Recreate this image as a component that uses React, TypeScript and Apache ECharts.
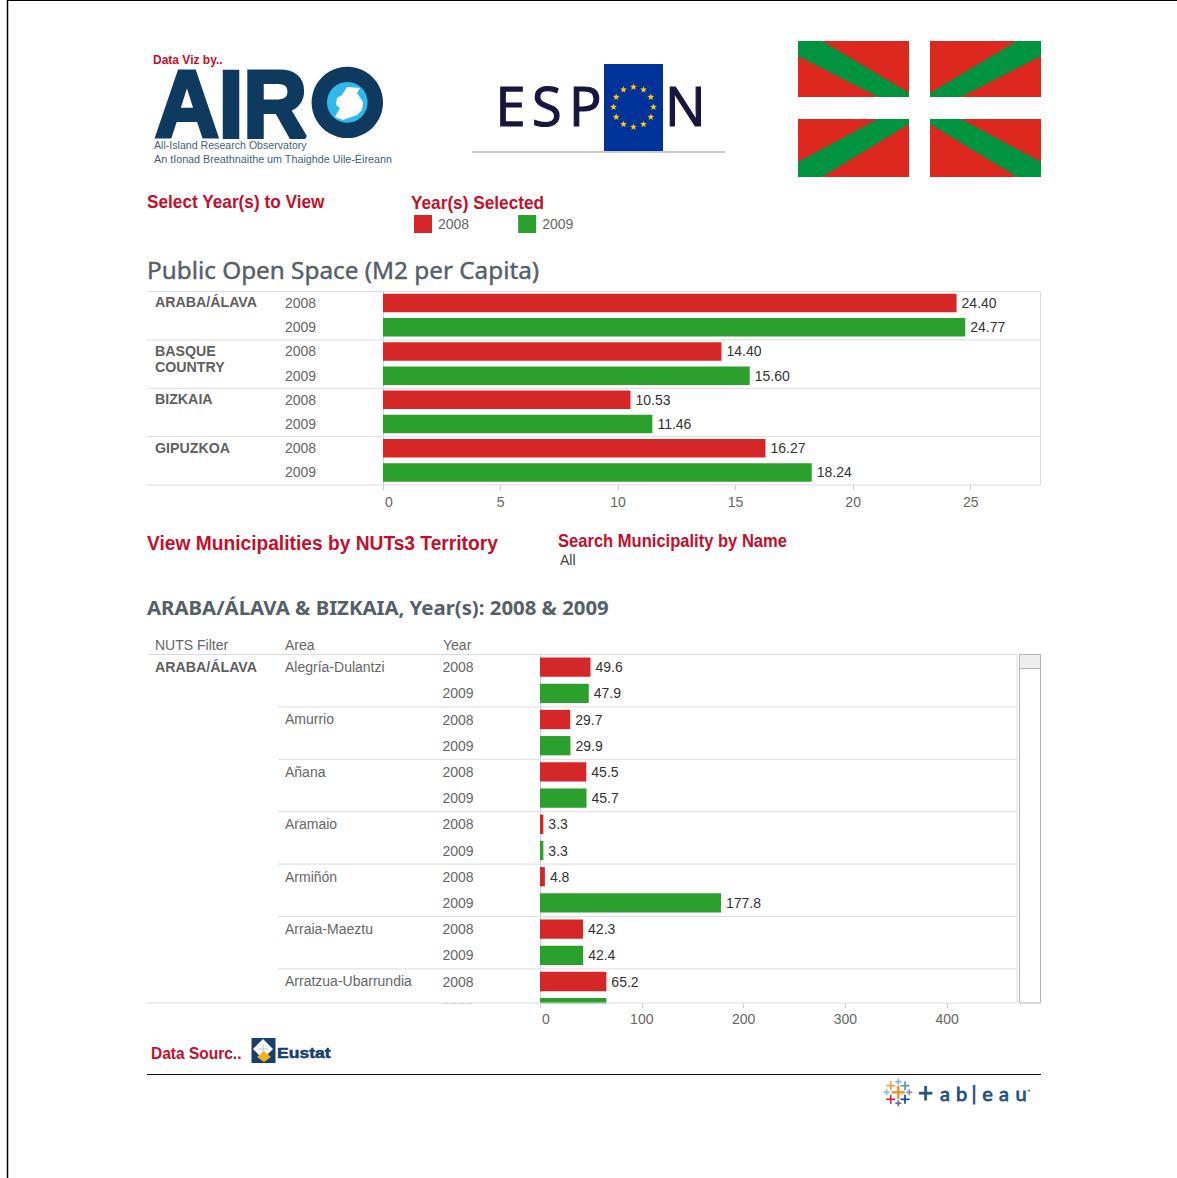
import React, { useEffect, useRef } from "react";
import * as echarts from "echarts";

const YEARS = ["2008", "2009"];
const regions = ["ARABA/ÁLAVA", "BASQUE COUNTRY", "BIZKAIA", "GIPUZKOA"];
const regionLines = [["ARABA/ÁLAVA"], ["BASQUE", "COUNTRY"], ["BIZKAIA"], ["GIPUZKOA"]];
const space2008 = [24.4, 14.4, 10.53, 16.27];
const space2009 = [24.77, 15.6, 11.46, 18.24];
const ticksTop = [0, 5, 10, 15, 20, 25];

const areas = ["Alegría-Dulantzi", "Amurrio", "Añana", "Aramaio", "Armiñón", "Arraia-Maeztu", "Arratzua-Ubarrundia"];
const muni2008 = [49.6, 29.7, 45.5, 3.3, 4.8, 42.3, 65.2];
const muni2009 = [47.9, 29.9, 45.7, 3.3, 177.8, 42.4, 65.2];
const ticksBottom = [0, 100, 200, 300, 400];

const RED = "#d62728";
const GREEN = "#2ca02c";
const TITLE_RED = "#c40f2c";
const LINE = "#dcdcdc";
const GREY = "#666666";
const NAVY = "#0f3a5f";

const FONT = "'Liberation Sans', Arial, sans-serif";

function rowsOf(list: string[]) {
  return list.flatMap((n) => YEARS.map((y) => `${n}|${y}`));
}

function pad(values: number[], yearIndex: number) {
  return values.flatMap((v) => (yearIndex === 0 ? [v, null] : [null, v]));
}

function txt(text: string, x: number, y: number, size: number, fill: string, extra: any = {}) {
  const { weight, family, align, stroke, lineWidth, ...rest } = extra;
  return {
    type: "text",
    x,
    y,
    z: 20,
    silent: true,
    style: {
      text,
      fill,
      fontSize: size,
      fontWeight: weight || "normal",
      fontFamily: family || FONT,
      align: align || "left",
      verticalAlign: "middle",
      ...(stroke ? { stroke, lineWidth } : {}),
    },
    ...rest,
  };
}

function hline(x1: number, x2: number, y: number, stroke = LINE, w = 1, z = 6) {
  return { type: "line", z, silent: true, shape: { x1, y1: y, x2, y2: y }, style: { stroke, lineWidth: w } };
}
function vline(x: number, y1: number, y2: number, stroke = LINE, w = 1, z = 6) {
  return { type: "line", z, silent: true, shape: { x1: x, y1, x2: x, y2 }, style: { stroke, lineWidth: w } };
}
function box(x: number, y: number, width: number, height: number, fill: string, z = 20, stroke?: string) {
  return { type: "rect", z, silent: true, shape: { x, y, width, height }, style: { fill, stroke, lineWidth: stroke ? 1 : 0 } };
}
function poly(points: number[][], fill: string, z = 21) {
  return { type: "polygon", z, silent: true, shape: { points }, style: { fill } };
}
function star(cx: number, cy: number, r: number) {
  const pts: number[][] = [];
  for (let i = 0; i < 10; i++) {
    const a = -Math.PI / 2 + (i * Math.PI) / 5;
    const q = i % 2 === 0 ? r : r * 0.42;
    pts.push([cx + q * Math.cos(a), cy + q * Math.sin(a)]);
  }
  return poly(pts, "#ffcc00", 22);
}
function cross(cx: number, cy: number, h: number, fill: string) {
  const t = h > 6 ? 2.4 : 1.7;
  return [box(cx - h, cy - t / 2, h * 2, t, fill, 22), box(cx - t / 2, cy - h, t, h * 2, fill, 22)];
}

function barSeries(name: string, color: string, values: number[], gridIndex: number, digits: number, hideLabelAt: number[] = []) {
  return {
    type: "bar",
    name,
    xAxisIndex: gridIndex,
    yAxisIndex: gridIndex,
    barWidth: gridIndex === 0 ? 18.5 : 19.3,
    barGap: "-100%",
    itemStyle: { color },
    label: {
      show: true,
      position: "right",
      distance: 5,
      color: "#333333",
      fontSize: 14,
      fontFamily: FONT,
      padding: [0, 0, 2, 0],
      formatter: (p: any) => Number(p.value).toFixed(digits),
    },
    data: values.map((v, i) =>
      hideLabelAt.includes(i) ? { value: v, label: { show: false } } : v
    ),
    z: 2,
  };
}

function xAxisOf(gridIndex: number, max: number, interval: number, ticks: number[], offset: number, margin: number) {
  return {
    type: "value",
    gridIndex,
    min: 0,
    max,
    interval,
    offset,
    z: 10,
    axisLine: { show: false },
    axisTick: { show: true, length: 5, customValues: ticks, lineStyle: { color: "#cfcfcf" } },
    splitLine: { show: false },
    axisLabel: {
      color: GREY,
      fontSize: 14,
      fontFamily: FONT,
      margin,
      customValues: ticks,
      alignMinLabel: "left",
      formatter: (v: number) => (v === 0 ? "{z|0}" : String(v)),
      rich: { z: { padding: [0, 0, 0, 2], color: GREY, fontSize: 14, fontFamily: FONT } },
    },
  };
}

function yAxisOf(gridIndex: number, rows: string[], margin: number) {
  return {
    type: "category",
    gridIndex,
    inverse: true,
    data: rows,
    z: 1,
    axisLine: { show: true, lineStyle: { color: "#d0d0d0" } },
    axisTick: { show: false },
    axisLabel: {
      interval: 0,
      color: GREY,
      fontSize: 14,
      fontFamily: FONT,
      align: "left",
      margin,
      padding: [0, 0, 2, 0],
      formatter: (v: string) => v.split("|")[1],
    },
  };
}

function buildGraphics() {
  const g: any[] = [];
  // page frame
  g.push(hline(8, 1177, 0.5, "#000", 1, 30), vline(7.5, 0, 1178, "#000", 1.5, 30));

  // AIRO logo
  g.push(txt("Data Viz by..", 153, 59.5, 12, TITLE_RED, { weight: "bold" }));
  g.push(txt("AIR", 155, 104, 94, NAVY, { weight: "bold", scaleX: 0.94, stroke: NAVY, lineWidth: 4 }));
  g.push({ type: "circle", z: 21, silent: true, shape: { cx: 347.3, cy: 102.4, r: 35.7 }, style: { fill: NAVY } });
  g.push({ type: "circle", z: 22, silent: true, shape: { cx: 347.3, cy: 102.4, r: 20.3 }, style: { fill: "#2fb9ec" } });
  g.push(poly([[347, 87], [360, 88], [357, 93], [363, 102], [362, 110], [357, 115], [343, 120], [335, 117], [340, 108], [336, 105], [337, 98], [342, 95]], "#ffffff", 23));
  g.push(txt("All-Island Research Observatory", 154, 145, 11, "#3f5f7e", { scaleX: 0.965 }));
  g.push(txt("An tIonad Breathnaithe um Thaighde Uile-Éireann", 154, 158.5, 11, "#3f5f7e", { scaleX: 0.98 }));

  // ESPON logo
  [["E", 495.5], ["S", 532], ["P", 569], ["N", 665]].forEach(([c, x]) =>
    g.push(txt(c as string, x as number, 105, 54, "#16163f", { family: "'Open Sans', sans-serif", stroke: "#16163f", lineWidth: 1.2 }))
  );
  g.push(hline(472, 725, 152, "#c8c8c8", 2, 20));
  g.push(box(604, 64, 59, 87, "#003399", 21));
  for (let i = 0; i < 12; i++) {
    const a = (i * Math.PI) / 6;
    g.push(star(633.5 + 20 * Math.sin(a), 107 - 20 * Math.cos(a), 3.6));
  }

  // Ikurriña
  const flagRed = "#dc281f";
  const flagGreen = "#009440";
  g.push(box(798, 41, 111, 56, flagRed), box(930, 41, 111, 56, flagRed), box(798, 119, 111, 58, flagRed), box(930, 119, 111, 58, flagRed));
  g.push(poly([[798, 41], [822, 41], [909, 93], [909, 97], [878, 97], [798, 56]], flagGreen));
  g.push(poly([[1041, 41], [1017, 41], [930, 93], [930, 97], [961, 97], [1041, 56]], flagGreen));
  g.push(poly([[798, 177], [822, 177], [909, 124], [909, 119], [878, 119], [798, 162]], flagGreen));
  g.push(poly([[1041, 177], [1017, 177], [930, 124], [930, 119], [961, 119], [1041, 162]], flagGreen));

  // Section titles
  g.push(txt("Select Year(s) to View", 147, 202, 18, TITLE_RED, { weight: "bold", scaleX: 0.957 }));
  g.push(txt("Year(s) Selected", 411, 203, 18, TITLE_RED, { weight: "bold", scaleX: 0.957 }));
  g.push(txt("Public Open Space (M2 per Capita)", 147, 269.5, 24, "#555f69", { family: "'Noto Sans', sans-serif", scaleX: 1.013, stroke: "#555f69", lineWidth: 0.4 }));
  g.push(txt("View Municipalities by NUTs3 Territory", 147, 543, 20, TITLE_RED, { weight: "bold", scaleX: 0.96 }));
  g.push(txt("Search Municipality by Name", 558, 541, 18, TITLE_RED, { weight: "bold", scaleX: 0.92 }));
  g.push(txt("All", 560, 559.5, 14, "#444444"));
  g.push(txt("ARABA/ÁLAVA & BIZKAIA, Year(s): 2008 & 2009", 147, 607.5, 20, "#555f69", { family: "'Noto Sans', sans-serif", weight: "bold", scaleX: 1.018 }));

  // Upper chart table
  [291.5, 339.9, 388.3, 436.6, 485].forEach((y) => g.push(hline(147, 1040.5, y)));
  g.push(vline(1040.5, 291.5, 485));
  const regionY = [302.5, 351, 399.5, 448];
  regionLines.forEach((lines, i) =>
    lines.forEach((l, j) => g.push(txt(l, 155, regionY[i] + j * 16, 14, "#5f5f5f", { weight: "bold", scaleX: 1.015 })))
  );

  // Lower chart table
  g.push(txt("NUTS Filter", 155, 645, 14, GREY), txt("Area", 285, 645, 14, GREY), txt("Year", 443, 645, 14, GREY));
  g.push(box(147, 1003.5, 894, 18.5, "#ffffff", 5));
  g.push(hline(147, 1017, 654.5));
  areas.forEach((_, i) => {
    if (i > 0) g.push(hline(278, 1017, 654.5 + i * 52.4));
    g.push(txt(areas[i], 285, 667 + i * 52.4, 14, GREY));
  });
  g.push(hline(147, 1017, 1003));
  g.push(vline(1017, 654.5, 1003));
  g.push(txt("ARABA/ÁLAVA", 155, 667, 14, "#5f5f5f", { weight: "bold", scaleX: 1.015 }));
  // scrollbar
  g.push(box(1019.5, 654.5, 21, 348.5, "#ffffff", 20, "#b4b4b4"));
  g.push(box(1019.5, 654.5, 21, 14, "#eeeeee", 21, "#b4b4b4"));

  // Footer
  g.push(txt("Data Sourc..", 151, 1053.5, 16, TITLE_RED, { weight: "bold", scaleX: 0.97 }));
  g.push(box(251.5, 1038, 24, 25, "#17406d"));
  g.push(poly([[263, 1039], [273, 1049], [263, 1059], [253, 1049]], "#ffffff"));
  g.push(hline(258, 268, 1049, "#b8c4d0", 1, 22), vline(263, 1044, 1054, "#b8c4d0", 1, 22));
  g.push(poly([[264, 1051], [271, 1057], [264, 1062], [257, 1057]], "#f7b418", 23));
  g.push(txt("Eustat", 277, 1052, 15, "#17406d", { weight: "bold", scaleX: 1.17, stroke: "#17406d", lineWidth: 0.5 }));
  g.push(hline(147, 1041, 1074.5, "#111111", 1, 20));

  // Tableau wordmark
  const crosses: [number, number, number, string][] = [
    [898.3, 1092.3, 6.5, "#f28e2b"],
    [890.7, 1085.7, 4.5, "#f2a03f"],
    [905, 1085.7, 4.5, "#5c9aa8"],
    [898.3, 1081.7, 3, "#8fb7c2"],
    [886.7, 1092.3, 3, "#9fb9c6"],
    [909.3, 1092.3, 3, "#8a93b5"],
    [890.7, 1099.3, 4.5, "#d1274f"],
    [905, 1099.3, 4.5, "#1f4a7a"],
    [898.3, 1103.3, 3, "#6b6a9c"],
  ];
  crosses.forEach(([x, y, h, c]) => g.push(...cross(x, y, h, c)));
  const mark: [string, number][] = [["+", 925.5], ["a", 945], ["b", 961.5], ["|", 974], ["e", 987.5], ["a", 1004], ["u", 1021]];
  mark.forEach(([c, x]) =>
    g.push(txt(c, x, c === "+" ? 1092 : 1093, c === "+" ? 26 : 20, "#24507f", { align: "center", family: "'Lato', sans-serif", stroke: "#24507f", lineWidth: 0.8 }))
  );
  g.push({ type: "circle", z: 22, silent: true, shape: { cx: 1029, cy: 1090.5, r: 0.9 }, style: { fill: "#24507f" } });
  return g;
}

export default function App() {
  const ref = useRef<HTMLDivElement>(null);
  useEffect(() => {
    const chart = echarts.init(ref.current!, undefined, { renderer: "svg" });
    const rowsA = rowsOf(regions);
    const rowsB = rowsOf(areas);
    chart.setOption({
      animation: false,
      backgroundColor: "#ffffff",
      legend: {
        left: 409,
        top: 210,
        itemWidth: 18,
        itemHeight: 18,
        itemGap: 49,
        selectedMode: false,
        icon: "rect",
        data: YEARS,
        textStyle: { color: GREY, fontSize: 14, fontFamily: FONT, padding: [2, 0, 0, 1] },
      },
      grid: [
        { left: 383, top: 291, width: 657, height: 193.5, containLabel: false },
        { left: 540, top: 654, width: 477, height: 366.8, containLabel: false },
      ],
      xAxis: [xAxisOf(0, 27.95, 5, ticksTop, 0.5, 10), xAxisOf(1, 468.6, 100, ticksBottom, -17.8, 9)],
      yAxis: [yAxisOf(0, rowsA, 98), yAxisOf(1, rowsB, 97.5)],
      series: [
        barSeries(YEARS[0], RED, pad(space2008, 0), 0, 2),
        barSeries(YEARS[1], GREEN, pad(space2009, 1), 0, 2),
        barSeries(YEARS[0], RED, pad(muni2008, 0), 1, 1),
        barSeries(YEARS[1], GREEN, pad(muni2009, 1), 1, 1, [13]),
      ],
      graphic: { elements: buildGraphics() },
    });
    return () => chart.dispose();
  }, []);
  return <div ref={ref} style={{ position: "fixed", left: 0, top: 0, width: 1177, height: 1178 }} />;
}
